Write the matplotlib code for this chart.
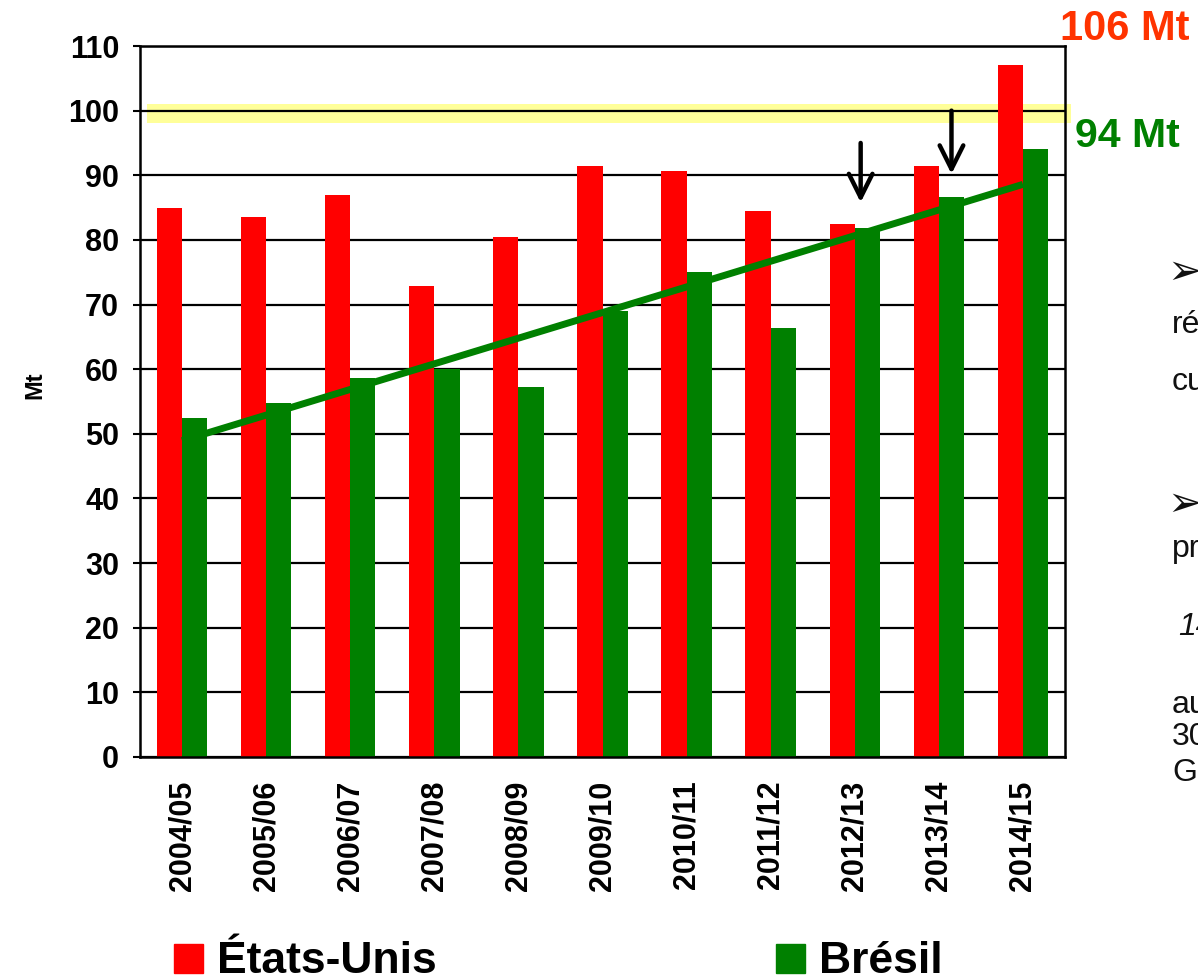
import numpy as np
import matplotlib
matplotlib.use('Agg')  # no display
import matplotlib.pyplot as plt
import matplotlib.transforms as mtransforms
from matplotlib.patches import Rectangle

plt.rcParams['font.family'] = ['Liberation Sans', 'DejaVu Sans']

# soybean production (Mt)
seasons = ['2004/05', '2005/06', '2006/07', '2007/08', '2008/09', '2009/10',
           '2010/11', '2011/12', '2012/13', '2013/14', '2014/15']
usa = [85.0, 83.6, 87.0, 72.8, 80.5, 91.4, 90.7, 84.4, 82.5, 91.4, 107.0]
brazil = [52.4, 54.8, 58.7, 60.0, 57.3, 69.0, 75.1, 66.4, 81.9, 86.7, 94.1]
yticks = list(range(0, 111, 10))

W, H = 1198, 976
def fx(px):
    return px / W
def fy(py):
    return 1 - py / H

fig = plt.figure(figsize=(W / 100, H / 100), dpi=100)
ax = fig.add_axes([fx(140), fy(757), fx(1065) - fx(140), fy(46) - fy(757)])

x = np.arange(len(seasons))
bw = 0.3
ax.bar(x - bw / 2, usa, width=bw, color='#FF0000', zorder=2)
ax.bar(x + bw / 2, brazil, width=bw, color='#008000', zorder=2)

# linear trend of Brazil (excel style trendline)
coef = np.polyfit(x, brazil, 1)
ax.plot([x[0], x[-1]], np.polyval(coef, [x[0], x[-1]]), color='#008000', lw=5, zorder=3,
        solid_capstyle='butt')

# yellow highlight around 100 Mt
trans = mtransforms.blended_transform_factory(ax.transAxes, ax.transData)
ax.add_patch(Rectangle((0.008, 98.1), 0.998, 2.9, transform=trans, color='#FFFF99',
                       zorder=0.3, clip_on=False, lw=0))

# arrows
aprops = dict(arrowstyle='->,head_length=1.7,head_width=0.85', lw=3.2, color='black',
              shrinkA=0, shrinkB=0)
ax.annotate('', xy=(8.07, 85.8), xytext=(8.07, 95.0), arrowprops=aprops, zorder=4)
ax.annotate('', xy=(9.15, 90.2), xytext=(9.15, 100.0), arrowprops=aprops, zorder=4)

ax.set_xlim(-0.5, len(seasons) - 0.5)
ax.set_ylim(0, 110)
ax.set_yticks(yticks)
ax.set_yticklabels([str(v) for v in yticks], fontsize=22, fontweight='bold')
ax.set_xticks(x)
ax.set_xticklabels(seasons, rotation=90, fontsize=22, fontweight='bold')
ax.tick_params(axis='x', length=0, pad=17)
ax.tick_params(axis='y', length=5, width=1.5, pad=10)
ax.set_axisbelow(True)
ax.yaxis.grid(True, color='black', lw=1.6)
for s in ax.spines.values():
    s.set_linewidth(1.8)
    s.set_color('black')

fig.text(fx(35), fy(385), 'Mt', rotation=90, fontsize=17, fontweight='bold',
         ha='center', va='center')

# values on the right
fig.text(fx(1060), fy(29), '106 Mt', fontsize=30, fontweight='bold', color='#FF3300',
         ha='left', va='center')
fig.text(fx(1075), fy(136), '94 Mt', fontsize=29.5, fontweight='bold', color='#008000',
         ha='left', va='center')

# side text cut by the slide edge
for py in [272, 504]:
    fig.text(fx(1167), fy(py), '➢', fontsize=30, ha='left', va='center',
             family=['DejaVu Sans'], color='#111111')
side = [('ré', 1172, 333, 'normal'), ('cu', 1172, 390, 'normal'),
        ('pr', 1172, 557, 'normal'), ('14', 1178, 635, 'italic'),
        ('au', 1172, 713, 'normal'), ('30', 1172, 745, 'normal'), ('G', 1172, 781, 'normal')]
for txt, px, py, st in side:
    fig.text(fx(px), fy(py), txt, fontsize=23, style=st, ha='left', va='baseline',
             color='#111111')

# legend
for col, lab, px in [('#FF0000', 'États-Unis', 174), ('#008000', 'Brésil', 776)]:
    fig.patches.append(Rectangle((fx(px), fy(973)), fx(29), 29 / H, color=col,
                                 transform=fig.transFigure, figure=fig))
    fig.text(fx(px + 43), fy(973), lab, fontsize=32, fontweight='bold', ha='left',
             va='baseline')

fig.savefig('out.png', dpi=100)
